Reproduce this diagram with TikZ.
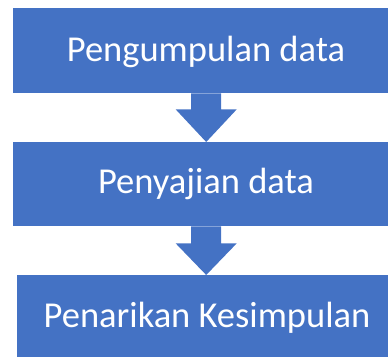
\documentclass[tikz,border=0pt]{standalone}
\usepackage{fontspec}
\setmainfont{Carlito}
\definecolor{boxblue}{HTML}{4472C4}
\begin{document}
\begin{tikzpicture}[x=1pt,y=1pt,
  stepbox/.style={rectangle,fill=boxblue,inner sep=0pt,anchor=north west},
  steptext/.style={anchor=base,text=white,inner sep=0pt,font=\fontsize{36.5}{40}\selectfont},
  flowarrow/.style={fill=boxblue}]
\useasboundingbox (0,0) rectangle (388,356);
\node[stepbox,minimum width=386pt,minimum height=85pt] (b1) at (13,348) {};
\node[stepbox,minimum width=386pt,minimum height=84pt] (b2) at (13,214) {};
\node[stepbox,minimum width=380pt,minimum height=84pt] (b3) at (17,81) {};
\node[steptext] (t1) at (206,294) {Pengumpulan data};
\node[steptext] (t2) at (206,162) {Penyajian data};
\node[steptext] (t3) at (207,28) {Penarikan Kesimpulan};
\path (b1.south) ++(0,-16) coordinate (h1);
\path (b2.south) ++(0,-17) coordinate (h2);
\fill[flowarrow] ([xshift=-15pt]b1.south) -- ([xshift=-15pt]h1) -- ([xshift=-30.5pt]h1)
  -- (b1.south |- b2.north) -- ([xshift=30.5pt]h1) -- ([xshift=15pt]h1)
  -- ([xshift=15pt]b1.south) -- cycle;
\fill[flowarrow] ([xshift=-15pt]b2.south) -- ([xshift=-15pt]h2) -- ([xshift=-30.5pt]h2)
  -- (b2.south |- b3.north) -- ([xshift=30.5pt]h2) -- ([xshift=15pt]h2)
  -- ([xshift=15pt]b2.south) -- cycle;
\end{tikzpicture}
\end{document}
